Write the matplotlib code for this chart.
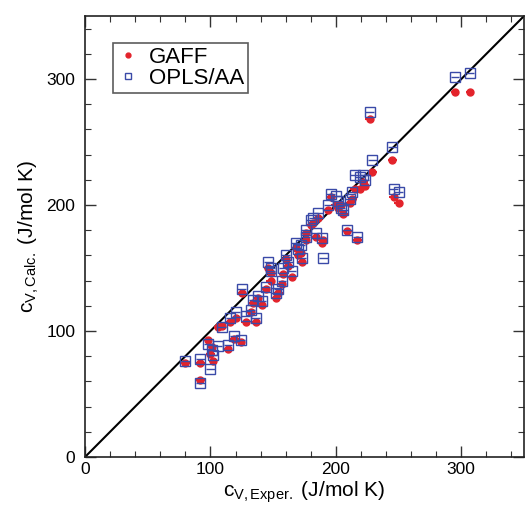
"""Calculated vs. experimental heat capacity c_V, GAFF and OPLS/AA."""

import matplotlib

matplotlib.use("Agg")
import matplotlib.pyplot as plt
from matplotlib.ticker import MultipleLocator

plt.rcParams["font.family"] = ["Liberation Sans", "DejaVu Sans"]
plt.rcParams["mathtext.fontset"] = "custom"
plt.rcParams["mathtext.rm"] = "Liberation Sans"
plt.rcParams["mathtext.it"] = "Liberation Sans"

# experimental c_V (J/mol K) per molecule
cv_exper = [80, 92, 92, 100, 101, 102, 98, 106, 109, 114, 116, 119, 124, 125,
            128, 132, 134, 136, 138, 141, 144, 146, 148, 148, 152, 154, 157,
            160, 162, 165, 168, 172, 173, 176, 176, 180, 182, 186, 189, 190,
            194, 196, 200, 204, 206, 209, 211, 215, 217, 219, 222, 223, 227,
            229, 245, 246, 250, 295, 307, 158, 170, 184, 202, 213, 120]
# calculated values, GAFF
cv_gaff = [75, 75, 61, 82, 87, 76, 93, 103, 104, 86, 107, 94, 91, 130,
           107, 115, 122, 107, 126, 121, 133, 150, 140, 146, 126, 130, 137,
           157, 152, 143, 166, 162, 155, 172, 178, 184, 186, 190, 170, 172,
           196, 206, 200, 200, 193, 179, 202, 213, 172, 213, 218, 215, 268,
           226, 236, 206, 202, 290, 290, 145, 160, 175, 198, 205, 110]
# calculated values, OPLS/AA
cv_opls = [76, 78, 59, 70, 85, 81, 90, 88, 103, 89, 110, 96, 93, 133,
           112, 117, 125, 110, 128, 124, 135, 155, 148, 150, 130, 133, 140,
           160, 155, 148, 170, 168, 158, 180, 175, 188, 190, 194, 174, 158,
           200, 209, 207, 198, 196, 180, 205, 224, 175, 222, 224, 220, 274,
           236, 246, 213, 210, 302, 305, 150, 165, 178, 203, 210, 115]
# uncertainty on the experimental axis
cv_err = 3.5

fig = plt.figure(figsize=(5.26, 5.08), dpi=100)
ax = fig.add_axes([0.1616, 0.1004, 0.8346, 0.868])

ax.plot([0, 350], [0, 350], color="black", lw=1.5, zorder=1)
ax.errorbar(cv_exper, cv_gaff, xerr=cv_err, fmt="o", ms=5, color="#e3232b",
            ecolor="#e3232b", elinewidth=1.5, capsize=0, label="GAFF", zorder=2)
ax.errorbar(cv_exper, cv_opls, xerr=cv_err, fmt="s", ms=7, mfc="none",
            mec="#3a4aa8", mew=1.0, ecolor="#3a4aa8", elinewidth=1.0,
            capsize=0, label="OPLS/AA", zorder=3)

ax.set_xlim(0, 350)
ax.set_ylim(0, 350)
for axis in (ax.xaxis, ax.yaxis):
    axis.set_major_locator(MultipleLocator(100))
    axis.set_minor_locator(MultipleLocator(20))
ax.tick_params(which="both", direction="in", top=True, right=True,
               labelsize=12.5, color="#333333")
ax.tick_params(which="major", length=8, width=1)
ax.tick_params(which="minor", length=4, width=0.8)
ax.tick_params(axis="y", which="major", pad=7)
for spine in ax.spines.values():
    spine.set_linewidth(1.2)
    spine.set_color("#222222")

ax.set_xlabel(r"c$_{\mathrm{V,Exper.}}$ (J/mol K)", fontsize=15, labelpad=2)
ax.set_ylabel(r"c$_{\mathrm{V,Calc.}}$ (J/mol K)", fontsize=15, labelpad=4)

handles, labels = ax.get_legend_handles_labels()
handles = [h[0] for h in handles]
leg = ax.legend(handles, labels, loc="upper left", bbox_to_anchor=(0.064, 0.94),
                fontsize=16, frameon=True, fancybox=False, edgecolor="#333333",
                handlelength=0.9, handletextpad=0.5, borderpad=0.2,
                labelspacing=0.0, markerscale=0.7, borderaxespad=0)
leg.get_frame().set_linewidth(1.2)

fig.savefig("out.png", dpi=100)
plt.close(fig)
